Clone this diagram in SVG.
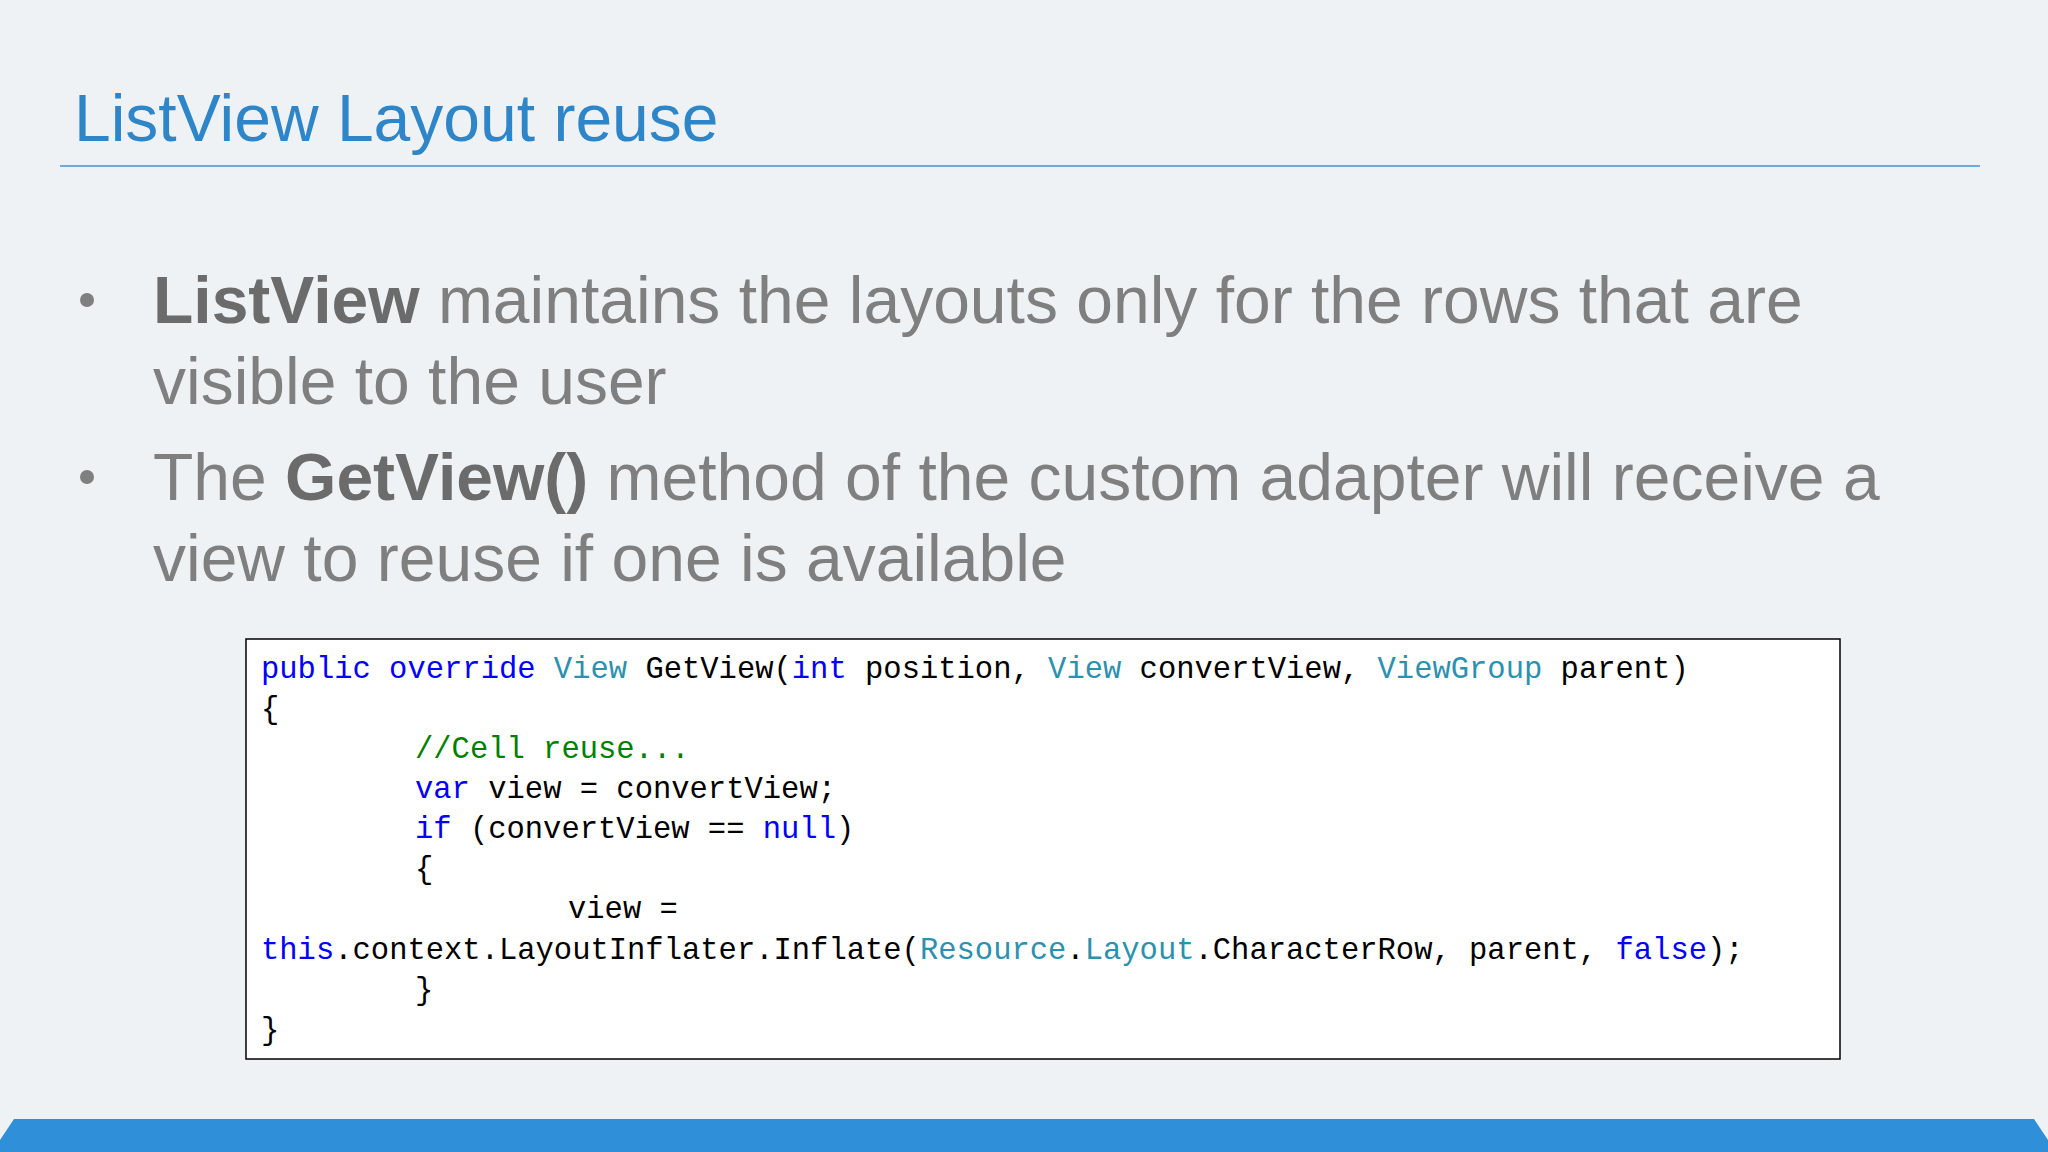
<svg xmlns="http://www.w3.org/2000/svg" width="2048" height="1152" viewBox="0 0 2048 1152">
<style>
.b{font-family:"Liberation Sans",Arial,sans-serif;font-size:66px;fill:#7f7f7f}
.bb{font-weight:bold;fill:#6b6b6b}
.c{font-family:"Liberation Mono","DejaVu Sans Mono",monospace;font-size:30.5px;fill:#000}
.k{fill:#0000ff}.t{fill:#2b91af}.g{fill:#008000}
</style>
<rect width="2048" height="1152" fill="#eef2f5"/>
<g id="title"><text x="74" y="141" font-family="Liberation Sans,Arial,sans-serif" font-size="66" fill="#2e86c9">ListView Layout reuse</text>
<line x1="60" y1="166" x2="1980" y2="166" stroke="#4a8fd0" stroke-width="1.5"/></g>
<g id="bullets">
<circle cx="87" cy="300" r="7" fill="#7f7f7f"/>
<text class="b" x="153" y="323"><tspan class="bb">ListView</tspan> maintains the layouts only for the rows that are</text>
<text class="b" x="153" y="404">visible to the user</text>
<circle cx="87" cy="477" r="7" fill="#7f7f7f"/>
<text class="b" x="153" y="500">The <tspan class="bb">GetView()</tspan> method of the custom adapter will receive a</text>
<text class="b" x="153" y="581">view to reuse if one is available</text>
</g>
<g id="code">
<rect x="246" y="639" width="1594" height="420" fill="#fff" stroke="#000" stroke-width="1.5"/>
<g class="c" xml:space="preserve">
<text x="261" y="678"><tspan class="k">public override</tspan> <tspan class="t">View</tspan> GetView(<tspan class="k">int</tspan> position, <tspan class="t">View</tspan> convertView, <tspan class="t">ViewGroup</tspan> parent)</text>
<text x="261" y="718">{</text>
<text x="415" y="758" class="g">//Cell reuse...</text>
<text x="415" y="798"><tspan class="k">var</tspan> view = convertView;</text>
<text x="415" y="838"><tspan class="k">if</tspan> (convertView == <tspan class="k">null</tspan>)</text>
<text x="415" y="878">{</text>
<text x="568" y="918">view =</text>
<text x="261" y="959"><tspan class="k">this</tspan>.context.LayoutInflater.Inflate(<tspan class="t">Resource</tspan>.<tspan class="t">Layout</tspan>.CharacterRow, parent, <tspan class="k">false</tspan>);</text>
<text x="415" y="999">}</text>
<text x="261" y="1039">}</text>
</g></g>
<path d="M14 1119 H2034 L2048 1140 V1152 H0 V1140 Z" fill="#2f8fd8"/>
</svg>
